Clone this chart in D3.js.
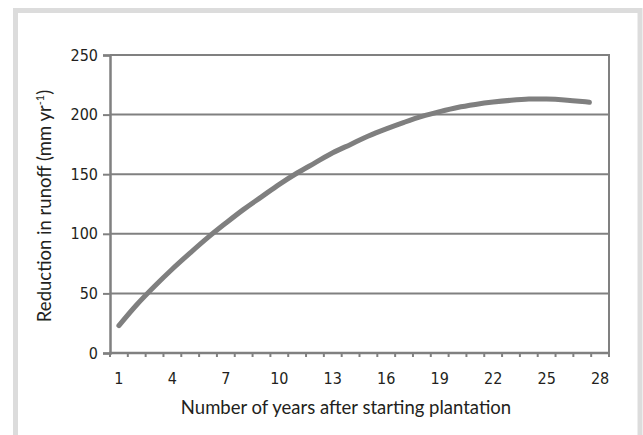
<!DOCTYPE html>
<html><head><meta charset="utf-8">
<script src="https://cdn.jsdelivr.net/npm/d3@7"></script>
<style>
html,body{margin:0;padding:0;background:#fff;}
svg{display:block;}
.tl{font-family:"DejaVu Sans Condensed","DejaVu Sans",sans-serif;font-stretch:condensed;}
</style></head>
<body>
<svg id="chart" width="643" height="435"></svg>
<script>
// Data
const years = [1,2,3,4,5,6,7,8,9,10,11,12,13,14,15,16,17,18,19,20,21,22,23,24,25,26,27,27.4];
const reduction = [23,40.5,56,70.5,84,97,109,120.5,131,141.5,151,159.5,168,175,182,188,193.5,198.5,202.5,206,208.5,210.5,212,213,213,212.3,211,210.3];
const xCategories = d3.range(1,29);
const xTickLabels = [1,4,7,10,13,16,19,22,25,28];
const yTicks = [0,50,100,150,200,250];

(function(){
const svg = d3.select("#chart");
const mLeft=110,mRight=609,mTop=55,mBottom=353;
const gray="#808080", textCol="#231f20";

// outer frame
svg.append("rect").attr("x",15.5).attr("y",10.5).attr("width",624.5).attr("height",440)
  .attr("fill","none").attr("stroke","#dcdcdc").attr("stroke-width",5);

const x = d3.scaleBand().domain(xCategories).range([mLeft,mRight]).padding(0);
const xl = d3.scaleLinear().domain([0.5,28.5]).range([mLeft,mRight]);
const y = d3.scaleLinear().domain([0,250]).range([mBottom,mTop]);

// gridlines
svg.append("g").selectAll("line").data(yTicks.filter(d=>d>0)).join("line")
  .attr("x1",mLeft).attr("x2",mRight).attr("y1",d=>y(d)).attr("y2",d=>y(d))
  .attr("stroke",gray).attr("stroke-width",2);
// right border
svg.append("line").attr("x1",mRight).attr("x2",mRight).attr("y1",mTop-1).attr("y2",mBottom)
  .attr("stroke",gray).attr("stroke-width",2);

// y axis
const yAxis = svg.append("g").attr("transform",`translate(${mLeft},0)`)
  .call(d3.axisLeft(y).tickValues(yTicks).tickSize(7).tickPadding(5).tickFormat(d3.format("d")));
yAxis.attr("font-family",null).attr("font-size",null);
yAxis.select(".domain").attr("stroke",gray).attr("stroke-width",2.5);
yAxis.selectAll(".tick line").attr("stroke",gray).attr("stroke-width",2);
yAxis.selectAll(".tick text").attr("class","tl").attr("fill",textCol).attr("font-size",16);

// x axis: ticks at category boundaries
const xAxisG = svg.append("g").attr("transform",`translate(0,${mBottom})`);
xAxisG.append("line").attr("x1",mLeft-1).attr("x2",mRight+1).attr("stroke",gray).attr("stroke-width",2.5);
xAxisG.selectAll("line.tk").data(d3.range(0,29)).join("line").attr("class","tk")
  .attr("x1",i=>xl(i+0.5)).attr("x2",i=>xl(i+0.5)).attr("y1",0).attr("y2",4)
  .attr("stroke",gray).attr("stroke-width",2);
xAxisG.selectAll("text").data(xTickLabels).join("text").attr("class","tl")
  .attr("x",d=>x(d)+x.bandwidth()/2).attr("y",31)
  .attr("text-anchor","middle").attr("fill",textCol).attr("font-size",16)
  .text(d=>d);

// curve
const line = d3.line().x((d,i)=>xl(years[i])).y(d=>y(d)).curve(d3.curveCatmullRom);
svg.append("path").datum(reduction).attr("d",line).attr("fill","none")
  .attr("stroke","#7f7f7f").attr("stroke-width",5).attr("stroke-linecap","round");

// axis titles
svg.append("text").attr("x",346).attr("y",414).attr("text-anchor","middle")
  .attr("font-family","Lato,sans-serif").attr("font-size",18.5).attr("fill",textCol)
  .text("Number of years after starting plantation");
const yt = svg.append("text").attr("transform","translate(51,206) rotate(-90)")
  .attr("text-anchor","middle").attr("font-family","Lato,sans-serif")
  .attr("font-size",18.5).attr("fill",textCol);
yt.append("tspan").text("Reduction in runoff (mm yr");
yt.append("tspan").attr("font-size",11).attr("dy",-7).text("-1");
yt.append("tspan").attr("dy",7).text(")");
})();
</script>
</body></html>
